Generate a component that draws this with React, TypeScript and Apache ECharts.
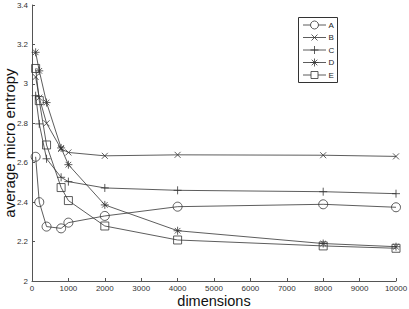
import React, { useEffect, useRef } from "react";
import * as echarts from "echarts";

const dims = [100, 200, 400, 800, 1000, 2000, 4000, 8000, 10000];
const seriesNames = ["A", "B", "C", "D", "E"];
const valuesA = [2.63, 2.40, 2.276, 2.267, 2.296, 2.33, 2.377, 2.389, 2.374];
const valuesB = [3.035, 2.93, 2.80, 2.67, 2.652, 2.635, 2.64, 2.638, 2.632];
const valuesC = [2.94, 2.797, 2.62, 2.526, 2.504, 2.472, 2.46, 2.453, 2.443];
const valuesD = [3.16, 3.066, 2.905, 2.675, 2.59, 2.386, 2.255, 2.19, 2.174];
const valuesE = [3.078, 2.915, 2.69, 2.474, 2.408, 2.279, 2.208, 2.178, 2.166];
const xTicks = [0, 1000, 2000, 3000, 4000, 5000, 6000, 7000, 8000, 9000, 10000];
const yTicks = [2, 2.2, 2.4, 2.6, 2.8, 3, 3.2, 3.4];

const symbols = [
  "circle",
  "path://M0,0L10,10M10,0L0,10",
  "path://M5,0L5,10M0,5L10,5",
  "path://M5,0L5,10M0,5L10,5M1.5,1.5L8.5,8.5M8.5,1.5L1.5,8.5",
  "rect",
];
const symbolSizes = [9, 6, 8, 8, 8];
const lineColor = "#333";

function legendMarker(i: number, cx: number, cy: number): any[] {
  const st = { stroke: lineColor, lineWidth: 0.8, fill: "none" };
  const ln = (x1: number, y1: number, x2: number, y2: number) => ({
    type: "line",
    shape: { x1: cx + x1, y1: cy + y1, x2: cx + x2, y2: cy + y2 },
    style: st,
  });
  if (i === 0) return [{ type: "circle", shape: { cx, cy, r: 4 }, style: { ...st, fill: "#fff" } }];
  if (i === 1) return [ln(-3, -3, 3, 3), ln(3, -3, -3, 3)];
  if (i === 2) return [ln(-4, 0, 4, 0), ln(0, -4, 0, 4)];
  if (i === 3) return [ln(-4, 0, 4, 0), ln(0, -4, 0, 4), ln(-2.8, -2.8, 2.8, 2.8), ln(2.8, -2.8, -2.8, 2.8)];
  return [{ type: "rect", shape: { x: cx - 3.5, y: cy - 3.5, width: 7, height: 7 }, style: { ...st, fill: "#fff" } }];
}

export default function App() {
  const ref = useRef<HTMLDivElement>(null);
  useEffect(() => {
    if (!ref.current) return;
    const chart = echarts.init(ref.current, undefined, { renderer: "svg" });
    const all = [valuesA, valuesB, valuesC, valuesD, valuesE];
    const legendEls: any[] = [
      { type: "rect", shape: { x: 298.5, y: 17.5, width: 39, height: 65 }, style: { fill: "#fff", stroke: "#333", lineWidth: 1 } },
    ];
    seriesNames.forEach((name, i) => {
      const cy = 25 + i * 12.5;
      legendEls.push({ type: "line", shape: { x1: 303, y1: cy, x2: 326, y2: cy }, style: { stroke: lineColor, lineWidth: 0.8 } });
      legendMarker(i, 314.5, cy).forEach((e) => legendEls.push(e));
      legendEls.push({
        type: "text",
        x: 328.5,
        y: cy,
        style: { text: name, fontSize: 8, fill: "#222", verticalAlign: "middle", fontFamily: "Liberation Sans, Arial, sans-serif" },
      });
    });
    chart.setOption({
      animation: false,
      textStyle: { fontFamily: "Liberation Sans, Arial, sans-serif" },
      grid: { left: 32, right: 13, top: 5, bottom: 28, containLabel: false, outerBoundsMode: "none" },
      xAxis: {
        type: "value",
        min: xTicks[0],
        max: xTicks[xTicks.length - 1],
        interval: 1000,
        name: "dimensions",
        nameLocation: "middle",
        nameGap: 13,
        nameMoveOverlap: false,
        nameTextStyle: { fontSize: 14.5, color: "#111", lineHeight: 14 },
        axisLine: { lineStyle: { color: "#555", width: 1 } },
        axisTick: { inside: true, length: 3, lineStyle: { color: "#555" } },
        axisLabel: { fontSize: 8, color: "#333", margin: 3, formatter: (v: number) => String(v) },
        splitLine: { show: false },
      },
      yAxis: {
        type: "value",
        min: yTicks[0],
        max: yTicks[yTicks.length - 1],
        interval: 0.2,
        name: "average micro entropy",
        nameLocation: "middle",
        nameGap: 15,
        nameMoveOverlap: false,
        nameTextStyle: { fontSize: 15, color: "#111" },
        axisLine: { show: true, lineStyle: { color: "#555", width: 1 } },
        axisTick: { show: true, inside: true, length: 3, lineStyle: { color: "#555" } },
        axisLabel: { fontSize: 8, color: "#333", margin: 4, formatter: (v: number) => String(Math.round(v * 10) / 10) },
        splitLine: { show: false },
      },
      series: seriesNames.map((name, i) => ({
        name,
        type: "line",
        data: dims.map((d, j) => [d, all[i][j]]),
        symbol: symbols[i],
        symbolSize: symbolSizes[i],
        showAllSymbol: true,
        lineStyle: { color: lineColor, width: 0.8 },
        itemStyle: { color: "transparent", borderColor: lineColor, borderWidth: 0.8 },
        emphasis: { disabled: true },
      })),
      graphic: legendEls,
    });
    return () => chart.dispose();
  }, []);
  return <div ref={ref} style={{ width: 409, height: 309, position: "absolute", left: 0, top: 0 }} />;
}
